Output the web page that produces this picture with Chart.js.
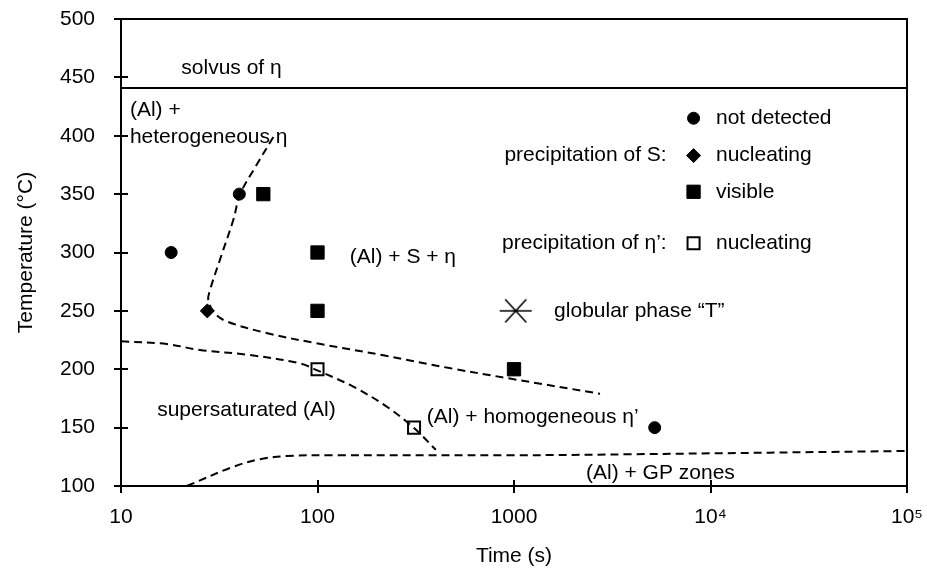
<!DOCTYPE html>
<html><head><meta charset="utf-8">
<script src="https://cdn.jsdelivr.net/npm/chart.js@4.4.1/dist/chart.umd.min.js"></script>
<style>html,body{margin:0;padding:0;background:#fff}#wrap{width:927px;height:569px;position:relative}</style>
</head><body><div id="wrap"><canvas id="c"></canvas></div>
<script>
const FONT = '"Liberation Sans", Arial, sans-serif';
const FONT_SIZE = 21;

// Observations: annealing time (s) and temperature (°C)
const notDetectedTime = [18, 40, 5200];
const notDetectedTemp = [300, 350, 150];
const sNucleatingTime = [27.5];
const sNucleatingTemp = [250];
const sVisibleTime = [53, 100, 100, 1000];
const sVisibleTemp = [350, 300, 250, 200];
const etaNucleatingTime = [100, 310];
const etaNucleatingTemp = [200, 150];

// Solvus of η
const solvusTime = [10, 100000];
const solvusTemp = [441, 441];

// Start of S precipitation (nose of the C-curve)
const sBoundaryTime = [59.6, 48.6, 40.4, 37.3, 31.9, 28.4, 27.8, 30, 34.5, 55, 100.5, 216, 469, 955, 2740];
const sBoundaryTemp = [399, 374, 350, 328, 294, 268, 259, 248, 241, 231, 222, 212, 201, 192, 179];

// Limit of the supersaturated solid solution
const ssBoundaryTime = [10, 17.1, 25.2, 45.3, 81.5, 100.5, 152, 225, 311, 400];
const ssBoundaryTemp = [224, 221.6, 216.5, 212.2, 205, 198.8, 185.1, 168, 149.4, 131];

// Limit of GP zone formation
const gpBoundaryTime = [21.6, 37.3, 50.9, 69.7, 120, 1000, 4000, 100000];
const gpBoundaryTemp = [100, 116.5, 122.9, 125.7, 126.3, 126.3, 127.2, 130];

// Axis ticks
const timeTicks = [10, 100, 1000, 10000, 100000];
const timeTickLabels = ['10', '100', '1000', '10⁴', '10⁵'];
const tempTicks = [100, 150, 200, 250, 300, 350, 400, 450, 500];

// Region names, placed in (time, temperature) coordinates
const regionLabels = [
  { text: 'solvus of η', t: 36.5, T: 458, align: 'center' },
  { text: '(Al) +', t: 11.1, T: 422, align: 'left' },
  { text: 'heterogeneous η', t: 11.1, T: 399, align: 'left' },
  { text: '(Al) + S + η', t: 146, T: 296, align: 'left' },
  { text: 'supersaturated (Al)', t: 43.5, T: 165, align: 'center' },
  { text: '(Al) + homogeneous η’', t: 360, T: 159, align: 'left' },
  { text: '(Al) + GP zones', t: 5560, T: 111, align: 'center' }
];

// Symbol key
const keySymbolTime = 8200;
const keyTextTime = 10660;
const keyGroupTime = 5984;
const keyRows = [
  { kind: 'notDetected', label: 'not detected', T: 415 },
  { kind: 'sNucleating', label: 'nucleating', T: 383 },
  { kind: 'sVisible', label: 'visible', T: 352 },
  { kind: 'etaNucleating', label: 'nucleating', T: 308 }
];
const keyGroups = [
  { text: 'precipitation of S:', T: 383 },
  { text: 'precipitation of η’:', T: 308 }
];
const globularKey = { t: 1020, T: 250, textT: 1600, label: 'globular phase “T”' };

function pts(xs, ys) { return xs.map((x, i) => ({ x: x, y: ys[i] })); }

// Marker styles
const markerStyles = {
  notDetected: { pointStyle: 'circle', radius: 6, fill: '#000', stroke: '#000', borderWidth: 1 },
  sNucleating: { pointStyle: 'rectRot', radius: 7, fill: '#000', stroke: '#000', borderWidth: 1 },
  sVisible: { pointStyle: 'rect', radius: 9.4, fill: '#000', stroke: '#000', borderWidth: 1 },
  etaNucleating: { pointStyle: 'rect', radius: 8.5, fill: 'rgba(0,0,0,0)', stroke: '#000', borderWidth: 2 }
};

// Asterisk-like glyph for the globular phase
const starImg = (function () {
  const c = document.createElement('canvas');
  c.width = 34; c.height = 26;
  const g = c.getContext('2d');
  g.strokeStyle = '#000'; g.lineWidth = 1.6;
  g.beginPath();
  g.moveTo(1, 13); g.lineTo(33, 13);
  g.moveTo(6.5, 1.5); g.lineTo(27.5, 24.5);
  g.moveTo(27.5, 1.5); g.lineTo(6.5, 24.5);
  g.stroke();
  return c;
})();

function markerDataset(label, xs, ys, kind) {
  const s = markerStyles[kind];
  return {
    label: label, data: pts(xs, ys), showLine: false,
    pointStyle: s.pointStyle, pointRadius: s.radius,
    pointBackgroundColor: s.fill, pointBorderColor: s.stroke, pointBorderWidth: s.borderWidth
  };
}
function dashedDataset(label, xs, ys) {
  return {
    label: label, data: pts(xs, ys), showLine: true, pointRadius: 0,
    borderColor: '#000', borderWidth: 2, borderDash: [8, 5], tension: 0.35, fill: false
  };
}

const framePlugin = {
  id: 'frameAndTicks',
  afterDatasetsDraw(chart) {
    const ctx = chart.ctx;
    const a = chart.chartArea;
    const xs = chart.scales.x, ys = chart.scales.y;
    ctx.save();
    ctx.strokeStyle = '#000';
    ctx.lineWidth = 2;
    ctx.strokeRect(a.left, a.top, a.right - a.left, a.bottom - a.top);
    ctx.beginPath();
    tempTicks.forEach(v => {
      const y = Math.round(ys.getPixelForValue(v));
      ctx.moveTo(a.left - 7, y); ctx.lineTo(a.left + 7, y);
    });
    timeTicks.forEach(v => {
      const x = Math.round(xs.getPixelForValue(v));
      ctx.moveTo(x, a.bottom - 6); ctx.lineTo(x, a.bottom + 7);
    });
    ctx.stroke();

    // region names
    ctx.fillStyle = '#000';
    ctx.font = FONT_SIZE + 'px ' + FONT;
    ctx.textBaseline = 'middle';
    regionLabels.forEach(l => {
      ctx.textAlign = l.align;
      ctx.fillText(l.text, xs.getPixelForValue(l.t), ys.getPixelForValue(l.T));
    });

    // symbol key
    keyRows.forEach(r => {
      const s = markerStyles[r.kind];
      const px = xs.getPixelForValue(keySymbolTime), py = ys.getPixelForValue(r.T);
      ctx.fillStyle = s.fill; ctx.strokeStyle = s.stroke; ctx.lineWidth = s.borderWidth;
      Chart.helpers.drawPoint(ctx, { pointStyle: s.pointStyle, radius: s.radius, rotation: 0, borderWidth: s.borderWidth }, px, py);
      ctx.fillStyle = '#000';
      ctx.textAlign = 'left';
      ctx.fillText(r.label, xs.getPixelForValue(keyTextTime), py);
    });
    keyGroups.forEach(gr => {
      ctx.textAlign = 'right';
      ctx.fillText(gr.text, xs.getPixelForValue(keyGroupTime), ys.getPixelForValue(gr.T));
    });
    const sx = xs.getPixelForValue(globularKey.t), sy = ys.getPixelForValue(globularKey.T);
    ctx.drawImage(starImg, sx - starImg.width / 2, sy - starImg.height / 2);
    ctx.textAlign = 'left';
    ctx.fillText(globularKey.label, xs.getPixelForValue(globularKey.textT), sy);
    ctx.restore();
  }
};

new Chart(document.getElementById('c'), {
  type: 'scatter',
  data: {
    datasets: [
      markerDataset('not detected', notDetectedTime, notDetectedTemp, 'notDetected'),
      markerDataset('S nucleating', sNucleatingTime, sNucleatingTemp, 'sNucleating'),
      markerDataset('S visible', sVisibleTime, sVisibleTemp, 'sVisible'),
      markerDataset('η’ nucleating', etaNucleatingTime, etaNucleatingTemp, 'etaNucleating'),
      {
        label: 'solvus of η', data: pts(solvusTime, solvusTemp), showLine: true,
        pointRadius: 0, borderColor: '#000', borderWidth: 2
      },
      dashedDataset('S boundary', sBoundaryTime, sBoundaryTemp),
      dashedDataset('supersaturated boundary', ssBoundaryTime, ssBoundaryTemp),
      dashedDataset('GP boundary', gpBoundaryTime, gpBoundaryTemp)
    ]
  },
  options: {
    responsive: true, maintainAspectRatio: false, animation: false,
    events: [],
    layout: { padding: { left: 0, top: 19, right: 20, bottom: 0 } },
    plugins: { legend: { display: false }, tooltip: { enabled: false } },
    scales: {
      x: {
        type: 'logarithmic', min: 10, max: 100000,
        afterBuildTicks(scale) { scale.ticks = timeTicks.map(v => ({ value: v })); },
        afterFit(scale) { scale.height = 83; },
        grid: { display: false, drawTicks: true, tickLength: 19 },
        border: { display: false },
        ticks: {
          color: '#000', font: { family: FONT, size: FONT_SIZE }, padding: 0,
          autoSkip: false, maxRotation: 0,
          callback(v) { const i = timeTicks.indexOf(v); return i >= 0 ? timeTickLabels[i] : ''; }
        },
        title: {
          display: true, text: 'Time (s)', color: '#000',
          font: { family: FONT, size: FONT_SIZE }, padding: { top: 0, bottom: 0 }
        }
      },
      y: {
        min: 100, max: 500,
        afterBuildTicks(scale) { scale.ticks = tempTicks.map(v => ({ value: v })); },
        afterFit(scale) { scale.width = 121; },
        grid: { display: false, drawTicks: true, tickLength: 26 },
        border: { display: false },
        ticks: { color: '#000', font: { family: FONT, size: FONT_SIZE }, padding: 0 },
        title: {
          display: true, text: 'Temperature (°C)', color: '#000',
          font: { family: FONT, size: FONT_SIZE }, padding: { top: 14, bottom: 0 }
        }
      }
    }
  },
  plugins: [framePlugin]
});
</script>
</body></html>
